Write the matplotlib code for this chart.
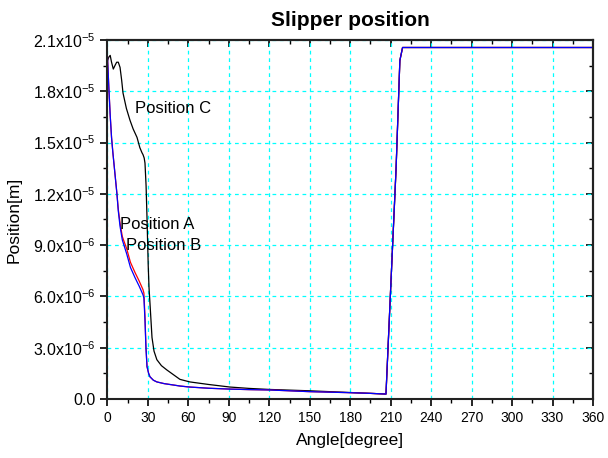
import numpy as np
import matplotlib
matplotlib.use('Agg')
import matplotlib.pyplot as plt
from matplotlib.ticker import MultipleLocator, FuncFormatter

plt.rcParams['font.family'] = ['Liberation Sans', 'DejaVu Sans']
plt.rcParams['mathtext.fontset'] = 'custom'
plt.rcParams['mathtext.rm'] = 'Liberation Sans'
plt.rcParams['mathtext.default'] = 'regular'

# positions in units of 1e-6 m
angle_a = [0, 1, 2, 3, 4, 5.5, 7, 8, 9.3, 11, 14.2, 17, 20.4, 23.5, 26.3, 27, 27.8, 28.5, 29.3,
           30.5, 31.5, 34, 36.6, 42, 48.8, 53.7, 61, 75, 90.8, 105, 120, 135, 150, 165, 180,
           195, 206.5, 210, 214, 216.8, 218.8, 240, 360]
pos_a = [20.0, 18.2, 16.6, 15.3, 14.4, 13.2, 12.0, 11.1, 10.3, 9.5, 8.8, 8.0, 7.4, 6.9, 6.4, 6.2,
         4.8, 3.1, 1.9, 1.5, 1.3, 1.1, 1.0, 0.9, 0.82, 0.76, 0.7, 0.63, 0.58, 0.55, 0.53, 0.48,
         0.43, 0.40, 0.37, 0.33, 0.29, 6.5, 13.5, 19.8, 20.56, 20.56, 20.56]

angle_b = [0, 1, 2, 3, 4, 5.5, 7, 8, 9.3, 11, 14.2, 17, 20.4, 23.5, 26.3, 27, 27.8, 28.5, 29.3,
           30.5, 31.5, 34, 36.6, 42, 48.8, 53.7, 61, 75, 90.8, 105, 120, 135, 150, 165, 180,
           195, 206.5, 210, 214, 216.8, 218.8, 240, 360]
pos_b = [20.0, 18.2, 16.6, 15.3, 14.4, 13.2, 12.0, 11.0, 10.1, 9.3, 8.5, 7.7, 7.1, 6.6, 6.1, 5.9,
         4.6, 3.0, 1.9, 1.5, 1.3, 1.1, 1.0, 0.9, 0.82, 0.76, 0.7, 0.63, 0.58, 0.55, 0.53, 0.48,
         0.43, 0.40, 0.37, 0.33, 0.29, 6.5, 13.5, 19.8, 20.56, 20.56, 20.56]

angle_c = [0, 1, 2, 3, 4.3, 5.5, 6.8, 8, 9.3, 10.5, 11.5, 14, 16.7, 19, 21.9, 24, 25.6, 26.3,
           27.2, 27.8, 28.6, 29.3, 30.2, 30.8, 31.5, 33, 34.5, 36.6, 40, 44, 53.7, 61, 75, 90.8,
           105, 120, 135, 150, 165, 180, 195, 206.5, 210, 214, 216.8, 218.8, 240, 360]
pos_c = [19.8, 20.0, 20.1, 19.7, 19.3, 19.5, 19.7, 19.7, 19.4, 18.65, 17.9, 17.0, 16.3, 15.8,
         15.3, 14.7, 14.4, 14.3, 14.1, 13.8, 12.5, 10.6, 7.8, 6.5, 5.6, 3.6, 2.8, 2.3, 1.95, 1.7,
         1.15, 1.0, 0.85, 0.7, 0.62, 0.56, 0.52, 0.48, 0.43, 0.38, 0.33, 0.29, 6.5, 13.5, 19.8,
         20.56, 20.56, 20.56]

labels = ['Position A', 'Position B', 'Position C']
label_pos = [(9.3, 10.2), (13.7, 8.95), (20.4, 17.0)]

fig = plt.figure(figsize=(6.08, 4.58), dpi=100)
ax = fig.add_axes([0.1768, 0.1288, 0.7985, 0.7839])

ax.plot(angle_c, np.array(pos_c) * 1e-6, color='black', lw=0.9)
ax.plot(angle_a, np.array(pos_a) * 1e-6, color='red', lw=0.9)
ax.plot(angle_b, np.array(pos_b) * 1e-6, color='blue', lw=0.9)

for lab, (x, y) in zip(labels, label_pos):
    ax.text(x, y * 1e-6, lab, fontsize=12, va='center', ha='left')

ax.set_xlim(0, 360)
ax.set_ylim(0, 2.1e-5)
ax.xaxis.set_major_locator(MultipleLocator(30))
ax.xaxis.set_minor_locator(MultipleLocator(15))
ax.yaxis.set_major_locator(MultipleLocator(3e-6))
ax.yaxis.set_minor_locator(MultipleLocator(1.5e-6))


def yfmt(v, pos):
    if v < 1e-12:
        return '0.0'
    e = int(np.floor(np.log10(v) + 1e-9))
    m = v / 10 ** e
    return '%.1fx10$^{%d}$' % (m, e)


ax.yaxis.set_major_formatter(FuncFormatter(yfmt))
ax.tick_params(axis='x', which='major', direction='out', length=5, width=1.2, labelsize=10)
ax.tick_params(axis='y', which='major', direction='out', length=5, width=1.2, labelsize=11.5)
ax.tick_params(which='minor', direction='out', length=3, width=1.0)

ax.grid(True, which='major', color='cyan', linestyle=(0, (3, 3)), lw=0.9)
for s in ax.spines.values():
    s.set_linewidth(1.5)
    s.set_color('#222222')

secx = ax.secondary_xaxis('top')
secx.xaxis.set_major_locator(MultipleLocator(30))
secx.xaxis.set_minor_locator(MultipleLocator(15))
secx.tick_params(which='major', direction='in', length=5, width=1.2, labeltop=False)
secx.tick_params(which='minor', direction='in', length=3, width=1.0)
secx.spines['top'].set_linewidth(1.5)

secy = ax.secondary_yaxis('right')
secy.yaxis.set_major_locator(MultipleLocator(3e-6))
secy.yaxis.set_minor_locator(MultipleLocator(1.5e-6))
secy.tick_params(which='major', direction='in', length=5, width=1.2, labelright=False)
secy.tick_params(which='minor', direction='in', length=3, width=1.0)
secy.spines['right'].set_linewidth(1.5)

ax.set_xlabel('Angle[degree]', fontsize=12.5, labelpad=6)
ax.set_ylabel('Position[m]', fontsize=12.5, labelpad=8)
ax.set_title('Slipper position', fontsize=15, fontweight='bold', pad=10)

fig.savefig('out.png', dpi=100)
